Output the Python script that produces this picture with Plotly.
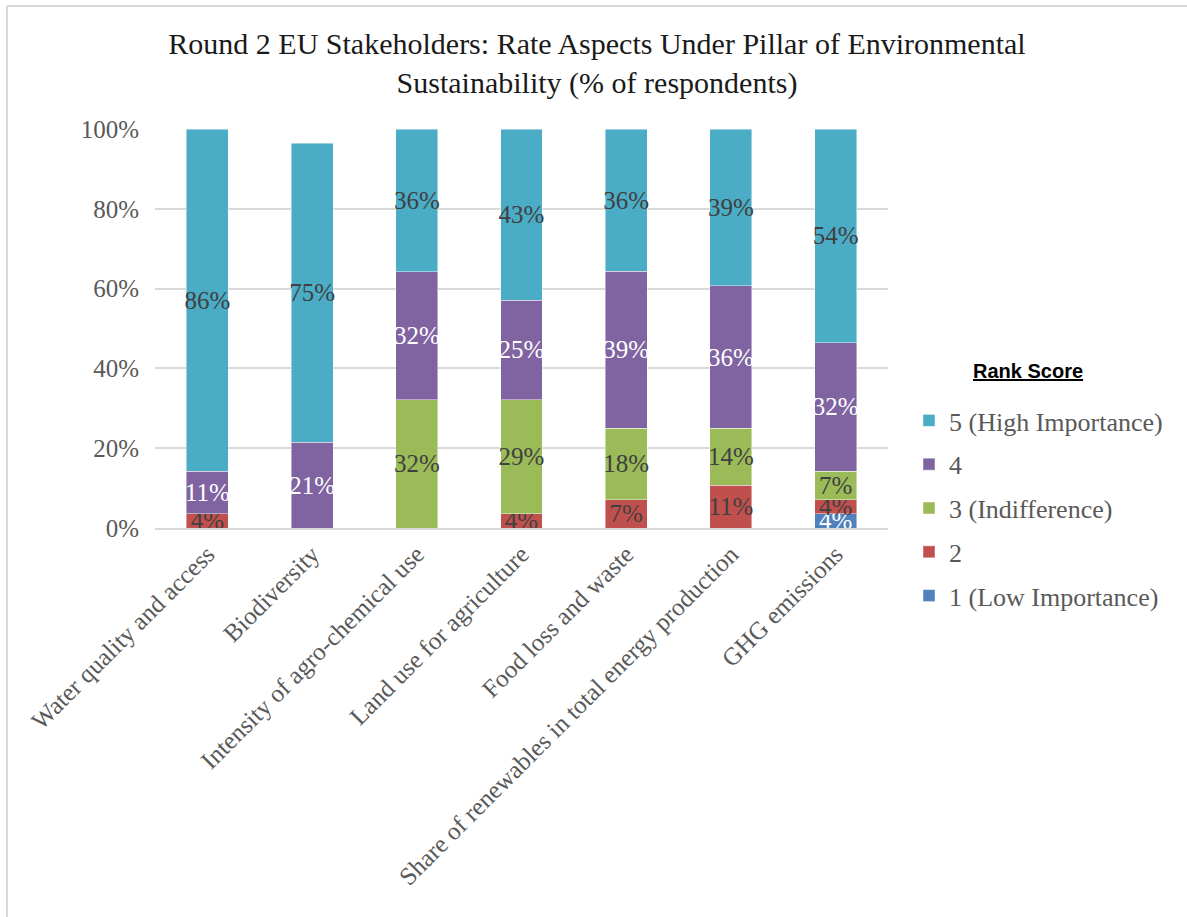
import plotly.graph_objects as go

# Survey aspects (x categories)
aspects = [
    "Water quality and access",
    "Biodiversity",
    "Intensity of agro-chemical use",
    "Land use for agriculture",
    "Food loss and waste",
    "Share of renewables in total energy production",
    "GHG emissions",
]

# Share of respondents (%) per rank score, one list per score
score_1 = [0, 0, 0, 0, 0, 0, 3.57]
score_2 = [3.57, 0, 0, 3.57, 7.14, 10.71, 3.57]
score_3 = [0, 0, 32.14, 28.57, 17.86, 14.29, 7.14]
score_4 = [10.71, 21.43, 32.14, 25.00, 39.29, 35.71, 32.14]
score_5 = [85.71, 75.00, 35.71, 42.86, 35.71, 39.29, 53.57]

series_names = ["1 (Low Importance)", "2", "3 (Indifference)", "4", "5 (High Importance)"]
series_values = [score_1, score_2, score_3, score_4, score_5]
series_colors = ["#4F81BD", "#C0504D", "#9BBB59", "#8064A2", "#4BACC6"]
label_colors = ["#FFFFFF", "#404040", "#404040", "#FFFFFF", "#404040"]

y_ticks = [0, 20, 40, 60, 80, 100]
y_tick_text = ["0%", "20%", "40%", "60%", "80%", "100%"]

SERIF = "Liberation Serif, Times New Roman, serif"

# Plot-area geometry in pixels
W, H = 1187, 917
L, R, T, B = 155, 299, 129, 389
pw, ph = W - L - R, H - T - B


def px_x(x):
    return (x - L) / pw


def px_y(y):
    return (H - B - y) / ph


fig = go.Figure()
for i, (name, vals, col, tcol) in enumerate(zip(series_names, series_values, series_colors, label_colors)):
    fig.add_trace(go.Bar(
        x=aspects,
        y=vals,
        name=name,
        legendgroup=name,
        legendrank=len(series_names) - i,  # highest score listed first
        marker=dict(color=col, line=dict(color="rgba(255,255,255,0.55)", width=0.8)),
        text=[f"{v:.0f}%" if v > 0 else "" for v in vals],
        textposition="inside",
        insidetextanchor="middle",
        constraintext="none",
        textangle=0,
        textfont=dict(family=SERIF, size=25, color=tcol),
        width=0.4,
        cliponaxis=False,
        hoverinfo="skip",
    ))

fig.update_layout(
    width=W,
    height=H,
    barmode="stack",
    paper_bgcolor="white",
    plot_bgcolor="white",
    margin=dict(l=L, r=R, t=T, b=B, autoexpand=False),
    title=dict(
        text="Round 2 EU Stakeholders: Rate Aspects Under Pillar of Environmental<br>Sustainability (% of respondents)",
        x=597 / W,
        xanchor="center",
        y=1 - 54 / H,
        yanchor="middle",
        font=dict(family=SERIF, size=30, color="#1a1a1a"),
    ),
    xaxis=dict(
        tickangle=-45,
        tickfont=dict(family=SERIF, size=25, color="#595959"),
        showline=True,
        linecolor="#d9d9d9",
        linewidth=1.5,
        ticks="",
        showgrid=False,
    ),
    yaxis=dict(
        range=[0, 100],
        tickvals=y_ticks,
        ticktext=y_tick_text,
        tickfont=dict(family=SERIF, size=25, color="#595959"),
        showgrid=True,
        gridcolor="#d9d9d9",
        gridwidth=1.5,
        zeroline=False,
        ticks="",
        ticklabelstandoff=15,
    ),
    legend=dict(
        traceorder="grouped",
        tracegroupgap=7,
        x=px_x(909),
        xanchor="left",
        y=px_y(397),
        yanchor="top",
        font=dict(family=SERIF, size=26, color="#595959"),
        itemwidth=30,
        bgcolor="rgba(0,0,0,0)",
    ),
    annotations=[
        dict(
            text="<b><u>Rank Score</u></b>",
            xref="paper", yref="paper",
            x=px_x(1028), y=px_y(371),
            xanchor="center", yanchor="middle",
            showarrow=False,
            font=dict(family="Liberation Sans, Arial, sans-serif", size=20, color="#000000"),
        )
    ],
    shapes=[
        dict(type="line", xref="paper", yref="paper",
             x0=px_x(7), x1=px_x(W), y0=px_y(6), y1=px_y(6),
             line=dict(color="#d9d9d9", width=2)),
        dict(type="line", xref="paper", yref="paper",
             x0=px_x(7), x1=px_x(7), y0=px_y(6), y1=px_y(H),
             line=dict(color="#d9d9d9", width=2)),
    ],
    showlegend=True,
)

fig.write_html("out.html")
